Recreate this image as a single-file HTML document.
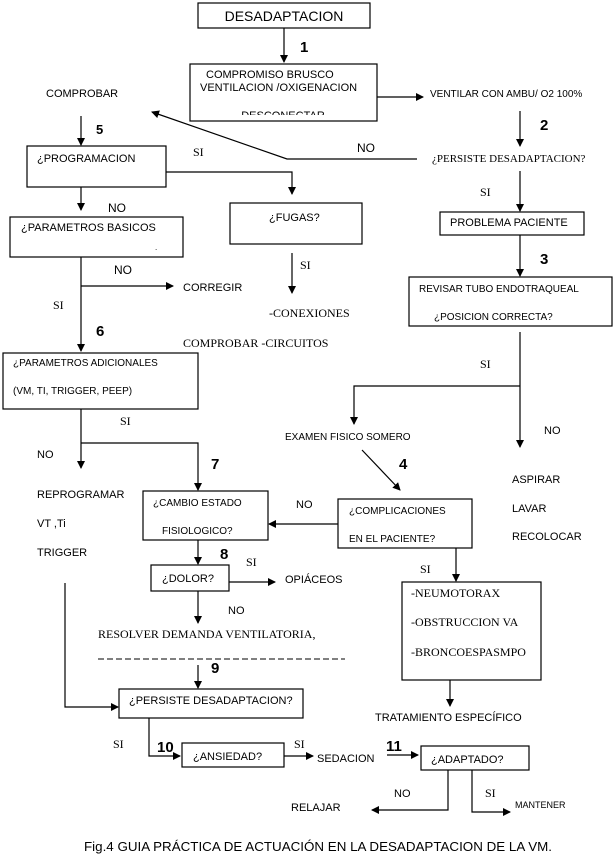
<!DOCTYPE html>
<html><head><meta charset="utf-8"><style>
html,body{margin:0;padding:0;background:#fff}
svg{display:block}
text{font-family:"Liberation Sans",sans-serif;font-size:11px;fill:#000}
.s{font-family:"Liberation Serif",serif;font-size:12px}
.b{font-weight:bold;font-size:15px}
rect{fill:#fff;stroke:#000;stroke-width:1.2}
line,polyline{stroke:#000;stroke-width:1.2;fill:none}
</style></head><body>
<svg width="616" height="863" viewBox="0 0 616 863">
<defs><marker id="a" markerWidth="8" markerHeight="8" refX="7" refY="4" orient="auto" markerUnits="userSpaceOnUse"><path d="M0,0L8,4L0,8z" fill="#000"/></marker>
<clipPath id="c"><rect x="190" y="64" width="187" height="51"/></clipPath></defs>

<rect x="198" y="3" width="172" height="25"/>
<text x="284" y="21" text-anchor="middle" style="font-size:14px">DESADAPTACION</text>
<line x1="284" y1="28" x2="284" y2="62" marker-end="url(#a)"/>
<text class="b" x="300" y="52">1</text>

<rect x="190" y="64" width="187" height="57"/>
<text x="206" y="78">COMPROMISO BRUSCO</text>
<text x="200" y="91">VENTILACION /OXIGENACION</text>
<text x="283" y="119" text-anchor="middle" clip-path="url(#c)">DESCONECTAR</text>
<line x1="377" y1="97" x2="423" y2="97" marker-end="url(#a)"/>
<text x="430" y="97" style="font-size:10px">VENTILAR CON AMBU/ O2 100%</text>

<text x="46" y="97">COMPROBAR</text>
<line x1="520" y1="111" x2="520" y2="146" marker-end="url(#a)"/>
<text class="b" x="540" y="130">2</text>
<text class="s" x="432" y="162" style="font-size:11px">¿PERSISTE DESADAPTACION?</text>
<text x="357" y="152" style="font-size:12px">NO</text>
<text class="s" x="193" y="156">SI</text>
<polyline points="417,159 287,159 152,112" marker-end="url(#a)"/>

<line x1="81" y1="116" x2="81" y2="145" marker-end="url(#a)"/>
<text class="b" x="96" y="134" style="font-size:13px">5</text>
<rect x="27" y="146" width="139" height="41"/>
<text x="37" y="162">¿PROGRAMACION</text>
<polyline points="166,172 292,172 292,194" marker-end="url(#a)"/>
<rect x="230" y="203" width="132" height="41"/>
<text x="269" y="221">¿FUGAS?</text>
<line x1="81" y1="187" x2="81" y2="210" marker-end="url(#a)"/>
<text x="108" y="212" style="font-size:12px">NO</text>

<rect x="10" y="217" width="173" height="40"/>
<text x="21" y="231">¿PARAMETROS BASICOS</text>
<text x="155" y="250" style="font-size:8px">.</text>
<line x1="81" y1="257" x2="81" y2="351" marker-end="url(#a)"/>
<line x1="81" y1="286" x2="173" y2="286" marker-end="url(#a)"/>
<text x="114" y="274" style="font-size:12px">NO</text>
<text x="183" y="291">CORREGIR</text>
<line x1="292" y1="253" x2="292" y2="293" marker-end="url(#a)"/>
<text class="s" x="300" y="269">SI</text>
<text class="s" x="269" y="317">-CONEXIONES</text>
<text class="s" x="183" y="347">COMPROBAR -CIRCUITOS</text>
<text class="s" x="53" y="309">SI</text>

<rect x="440" y="212" width="144" height="23"/>
<text x="450" y="226">PROBLEMA PACIENTE</text>
<line x1="520" y1="171" x2="520" y2="211" marker-end="url(#a)"/>
<text class="s" x="480" y="196">SI</text>
<line x1="520" y1="235" x2="520" y2="276" marker-end="url(#a)"/>
<text class="b" x="540" y="264">3</text>
<rect x="409" y="277" width="203" height="49"/>
<text x="419" y="292" style="font-size:10px">REVISAR TUBO ENDOTRAQUEAL</text>
<text x="434" y="320" style="font-size:10px">¿POSICION CORRECTA?</text>
<line x1="520" y1="332" x2="520" y2="447" marker-end="url(#a)"/>
<polyline points="520,386 354,386 354,424" marker-end="url(#a)"/>
<text class="s" x="480" y="368">SI</text>
<text x="544" y="434">NO</text>
<text x="285" y="440" style="font-size:10px">EXAMEN FISICO SOMERO</text>
<line x1="362" y1="450" x2="400" y2="490" marker-end="url(#a)"/>
<text class="b" x="399" y="469">4</text>
<text x="512" y="483">ASPIRAR</text>
<text x="512" y="512">LAVAR</text>
<text x="512" y="540">RECOLOCAR</text>

<text class="b" x="96" y="336">6</text>
<rect x="3" y="353" width="195" height="56"/>
<text x="13" y="366" style="font-size:10px">¿PARAMETROS ADICIONALES</text>
<text x="13" y="394" style="font-size:10px">(VM, TI, TRIGGER, PEEP)</text>
<line x1="81" y1="409" x2="81" y2="468" marker-end="url(#a)"/>
<polyline points="81,443 198,443 198,490" marker-end="url(#a)"/>
<text class="s" x="120" y="425">SI</text>
<text x="37" y="458">NO</text>
<text class="b" x="211" y="469">7</text>
<text x="37" y="498">REPROGRAMAR</text>
<text x="37" y="527">VT ,Ti</text>
<text x="37" y="556">TRIGGER</text>

<rect x="143" y="491" width="125" height="49"/>
<text x="153" y="506" style="font-size:10px">¿CAMBIO ESTADO</text>
<text x="162" y="534" style="font-size:10px">FISIOLOGICO?</text>
<rect x="338" y="499" width="134" height="49"/>
<text x="349" y="514" style="font-size:10px">¿COMPLICACIONES</text>
<text x="349" y="542" style="font-size:10px">EN EL PACIENTE?</text>
<line x1="338" y1="524" x2="269" y2="524" marker-end="url(#a)"/>
<text x="296" y="508">NO</text>
<line x1="456" y1="548" x2="456" y2="581" marker-end="url(#a)"/>
<text class="s" x="420" y="573">SI</text>

<line x1="198" y1="540" x2="198" y2="564" marker-end="url(#a)"/>
<text class="b" x="220" y="559">8</text>
<text class="s" x="246" y="566">SI</text>
<rect x="151" y="565" width="78" height="26"/>
<text x="162" y="582">¿DOLOR?</text>
<line x1="229" y1="582" x2="275" y2="582" marker-end="url(#a)"/>
<text x="285" y="583">OPIÁCEOS</text>

<rect x="402" y="582" width="139" height="98"/>
<text class="s" x="411" y="597">-NEUMOTORAX</text>
<text class="s" x="411" y="626">-OBSTRUCCION VA</text>
<text class="s" x="411" y="656">-BRONCOESPASMPO</text>
<line x1="450" y1="680" x2="450" y2="706" marker-end="url(#a)"/>
<text x="375" y="721">TRATAMIENTO ESPECÍFICO</text>

<line x1="198" y1="591" x2="198" y2="623" marker-end="url(#a)"/>
<text x="228" y="614">NO</text>
<text class="s" x="98" y="638">RESOLVER DEMANDA VENTILATORIA,</text>
<line x1="98" y1="659" x2="345" y2="659" style="stroke-dasharray:6 3;stroke-width:1"/>
<line x1="198" y1="665" x2="198" y2="688" marker-end="url(#a)"/>
<text class="b" x="211" y="673">9</text>
<polyline points="65,583 65,707 118,707" marker-end="url(#a)"/>
<rect x="119" y="689" width="184" height="29"/>
<text x="129" y="704">¿PERSISTE DESADAPTACION?</text>
<polyline points="149,718 149,756 180,756" marker-end="url(#a)"/>
<text class="s" x="113" y="748">SI</text>
<text class="b" x="157" y="752">10</text>
<rect x="182" y="743" width="102" height="24"/>
<text x="193" y="760">¿ANSIEDAD?</text>
<line x1="284" y1="756" x2="313" y2="756" marker-end="url(#a)"/>
<text class="s" x="294" y="748">SI</text>
<text x="317" y="762">SEDACION</text>
<line x1="387" y1="755" x2="418" y2="755" marker-end="url(#a)"/>
<text class="b" x="386" y="751">11</text>
<rect x="421" y="746" width="108" height="24"/>
<text x="431" y="763">¿ADAPTADO?</text>
<polyline points="448,770 448,810 372,810" marker-end="url(#a)"/>
<text x="394" y="797">NO</text>
<text x="291" y="811">RELAJAR</text>
<polyline points="472,770 472,812 510,812" marker-end="url(#a)"/>
<text class="s" x="485" y="797">SI</text>
<text x="515" y="808" style="font-size:9px">MANTENER</text>

<text x="84" y="851" style="font-size:13px" textLength="468" lengthAdjust="spacingAndGlyphs">Fig.4 GUIA PRÁCTICA DE ACTUACIÓN EN LA DESADAPTACION DE LA VM.</text>
</svg>
</body></html>
